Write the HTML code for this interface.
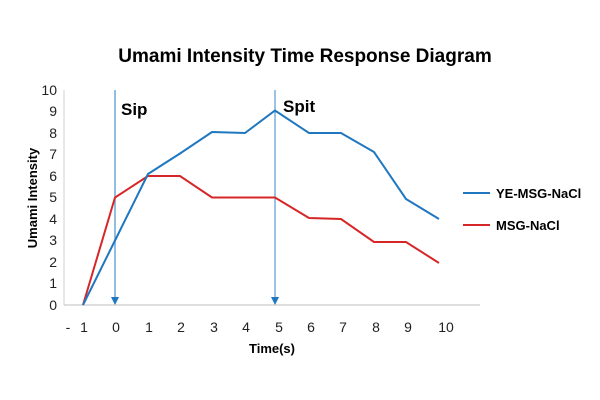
<!DOCTYPE html>
<html><head><style>body{margin:0;background:#fff}svg{display:block}text{font-family:"Liberation Sans",sans-serif}</style></head><body>
<svg width="600" height="400" viewBox="0 0 600 400">
<rect width="600" height="400" fill="#fff"/>
<text x="305" y="62" font-size="19" font-weight="bold" text-anchor="middle" fill="#000">Umami Intensity Time Response Diagram</text>
<line x1="64" y1="90" x2="64" y2="305" stroke="#d0d0d0" stroke-width="1"/>
<line x1="64" y1="305" x2="480" y2="305" stroke="#bfbfbf" stroke-width="1"/>
<g font-size="14" fill="#222" text-anchor="end">
<text x="57" y="310">0</text><text x="57" y="288">1</text><text x="57" y="267">2</text><text x="57" y="245">3</text><text x="57" y="224">4</text><text x="57" y="202">5</text><text x="57" y="181">6</text><text x="57" y="159">7</text><text x="57" y="138">8</text><text x="57" y="116">9</text><text x="57" y="95">10</text>
</g>
<g font-size="14" fill="#222" text-anchor="middle">
<text x="68" y="332">-</text><text x="84" y="332">1</text><text x="116" y="332">0</text><text x="149" y="332">1</text><text x="181" y="332">2</text><text x="214" y="332">3</text><text x="246" y="332">4</text><text x="279" y="332">5</text><text x="311" y="332">6</text><text x="343" y="332">7</text><text x="376" y="332">8</text><text x="408" y="332">9</text><text x="446" y="332">10</text>
</g>
<text x="272" y="353" font-size="13" font-weight="bold" text-anchor="middle">Time(s)</text>
<text transform="translate(37,198) rotate(-90)" font-size="13" font-weight="bold" text-anchor="middle">Umami Intensity</text>
<line x1="115" y1="90" x2="115" y2="298" stroke="#6fa8dc" stroke-width="1.5"/>
<polygon points="111,297 119,297 115,305" fill="#1f77c0"/>
<line x1="275" y1="90" x2="275" y2="298" stroke="#3a86c8" stroke-width="1"/>
<polygon points="271,297 279,297 275,305" fill="#1f77c0"/>
<text x="121" y="115" font-size="17" font-weight="bold">Sip</text>
<text x="283" y="112" font-size="17" font-weight="bold">Spit</text>
<polyline fill="none" stroke="#d62728" stroke-width="2" points="83,305 115,197.5 148,176 180,176 212,197.5 245,197.5 275,197.5 309,218 341,219 374,242 406,242 439,263"/>
<polyline fill="none" stroke="#1f77c0" stroke-width="2" points="83,305 115,240.5 148,174 180,153.5 212,132 245,133 275,110.5 309,133 341,133 374,152 406,199 439,219"/>
<line x1="463" y1="193" x2="490" y2="193" stroke="#1f77c0" stroke-width="2"/>
<line x1="463" y1="225" x2="490" y2="225" stroke="#d62728" stroke-width="2"/>
<text x="496" y="198" font-size="13" font-weight="bold">YE-MSG-NaCl</text>
<text x="496" y="230" font-size="13" font-weight="bold">MSG-NaCl</text>
</svg>
</body></html>
